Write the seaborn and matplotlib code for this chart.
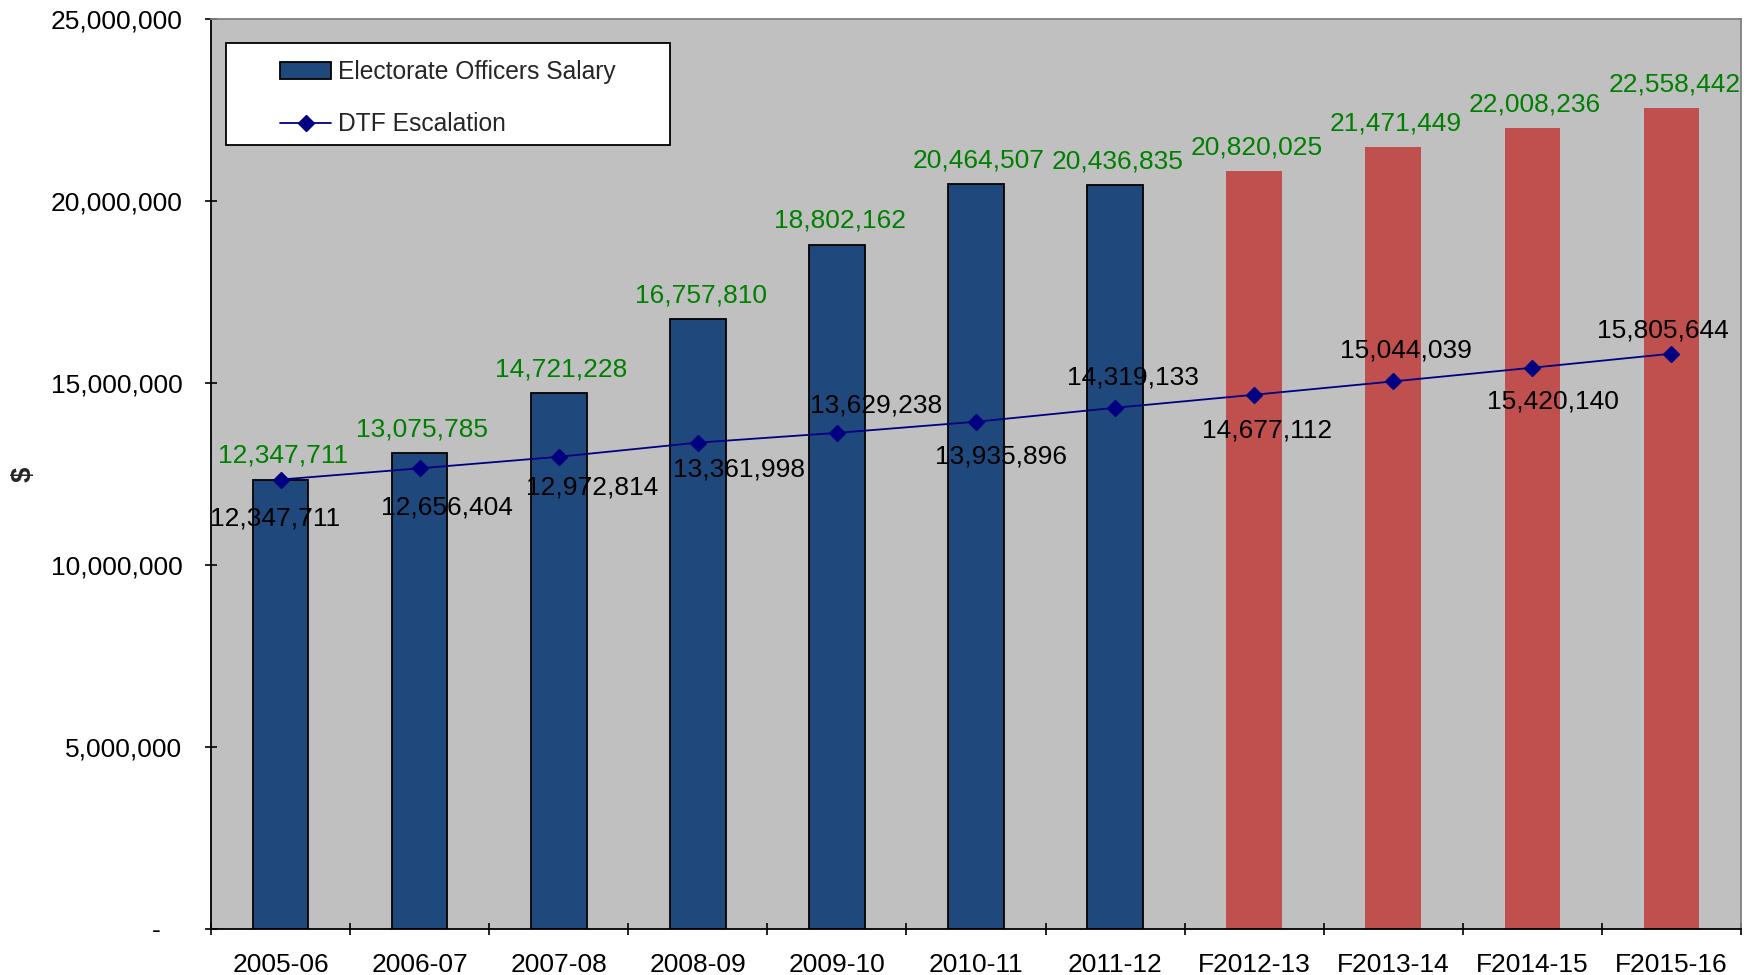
import matplotlib
matplotlib.use("Agg")
import matplotlib.pyplot as plt
import seaborn as sns
import pandas as pd
from matplotlib.patches import Patch, Rectangle
from matplotlib.lines import Line2D
from matplotlib.ticker import FuncFormatter, FixedLocator

# ---- data ----
categories = ["2005-06", "2006-07", "2007-08", "2008-09", "2009-10", "2010-11",
              "2011-12", "F2012-13", "F2013-14", "F2014-15", "F2015-16"]
salary = [12347711, 13075785, 14721228, 16757810, 18802162, 20464507,
          20436835, 20820025, 21471449, 22008236, 22558442]
dtf_escalation = [12347711, 12656404, 12972814, 13361998, 13629238, 13935896,
                  14319133, 14677112, 15044039, 15420140, 15805644]
period_type = ["Actual"] * 7 + ["Forecast"] * 4
bar_label = "Electorate Officers Salary"
line_label = "DTF Escalation"
y_ticks = [0, 5000000, 10000000, 15000000, 20000000, 25000000]

# ---- style ----
BLUE = "#1F497D"
RED = "#C0504D"
NAVY = "#000080"
GREEN = "#008000"
BG = "#C0C0C0"
FS = 19
# offsets (points) for DTF labels: (dx, dy)
line_label_offsets = [(-4, -28), (20, -28), (24, -22), (30, -19), (28, 20), (18, -25),
                      (13, 22), (9, -26), (9, 22), (15, -24), (-6, 17)]

sns.set_style("ticks")
plt.rcParams["font.family"] = ["Liberation Sans", "DejaVu Sans"]

df = pd.DataFrame({"category": categories, "salary": salary,
                   "dtf": dtf_escalation, "type": period_type})

fig = plt.figure(figsize=(17.6, 9.75), dpi=100)
ax = fig.add_axes([0.1199, 0.0472, 0.8693, 0.9333])
ax.set_facecolor(BG)

act = df[df["type"] == "Actual"]
fc = df[df["type"] == "Forecast"]
sns.barplot(data=act, x="category", y="salary", order=categories, color=BLUE,
            width=0.4, edgecolor="black", linewidth=1.3, saturation=1, ax=ax, zorder=2)
sns.barplot(data=fc, x="category", y="salary", order=categories, color=RED,
            width=0.4, linewidth=0, saturation=1, ax=ax, zorder=2)
sns.pointplot(data=df, x="category", y="dtf", order=categories, color=NAVY,
              markers="D", markersize=8, linewidth=1.3, errorbar=None, ax=ax, zorder=4)

# labels
for i, v in enumerate(salary):
    ax.annotate(f"{v:,.0f}", (i, v), xytext=(2, 17), textcoords="offset points",
                ha="center", va="center", color=GREEN, fontsize=FS, zorder=5)
for i, v in enumerate(dtf_escalation):
    dx, dy = line_label_offsets[i]
    ax.annotate(f"{v:,.0f}", (i, v), xytext=(dx, dy), textcoords="offset points",
                ha="center", va="center", color="black", fontsize=FS, zorder=5)

# axes
ax.set_xlim(-0.5, len(categories) - 0.5)
ax.set_ylim(0, 25000000)
ax.yaxis.set_major_locator(FixedLocator(y_ticks))
ax.yaxis.set_major_formatter(FuncFormatter(lambda v, p: "-   " if v == 0 else f"{v:,.0f}"))
ax.set_xticks(range(len(categories)))
ax.set_xticklabels(categories)
ax.set_xticks([i - 0.5 for i in range(len(categories) + 1)], minor=True)
ax.tick_params(axis="x", which="major", length=0, pad=17.5, labelsize=FS, colors="black")
ax.tick_params(axis="x", which="minor", length=9, width=1.2, direction="inout", color="black")
ax.tick_params(axis="y", which="major", length=9, width=1.2, direction="inout",
               pad=16, labelsize=FS, colors="black")
ax.set_xlabel("")
ax.set_ylabel("$", fontsize=20, fontweight="bold")
ax.yaxis.set_label_coords(-0.114, 0.5)

for s in ["left", "bottom"]:
    ax.spines[s].set_color("black")
    ax.spines[s].set_linewidth(1.3)
for s in ["top", "right"]:
    ax.spines[s].set_color("#808080")
    ax.spines[s].set_linewidth(1.3)
    ax.spines[s].set_visible(True)

# legend with separate frame
ax.add_patch(Rectangle((0.0098, 0.8615), 0.290, 0.112, transform=ax.transAxes,
                       facecolor="white", edgecolor="black", linewidth=1.3, zorder=6))
handles = [Patch(facecolor=BLUE, edgecolor="black", linewidth=1.3),
           Line2D([0], [0], color=NAVY, marker="D", markersize=8, linewidth=1.3)]
leg = ax.legend(handles, [bar_label, line_label], loc="upper left",
                bbox_to_anchor=(0.045, 0.955), frameon=False, borderpad=0,
                borderaxespad=0, fontsize=17.7, handlelength=2.1, handletextpad=0.25,
                labelspacing=1.15)
leg.set_zorder(7)

fig.savefig("out.png", dpi=100)
